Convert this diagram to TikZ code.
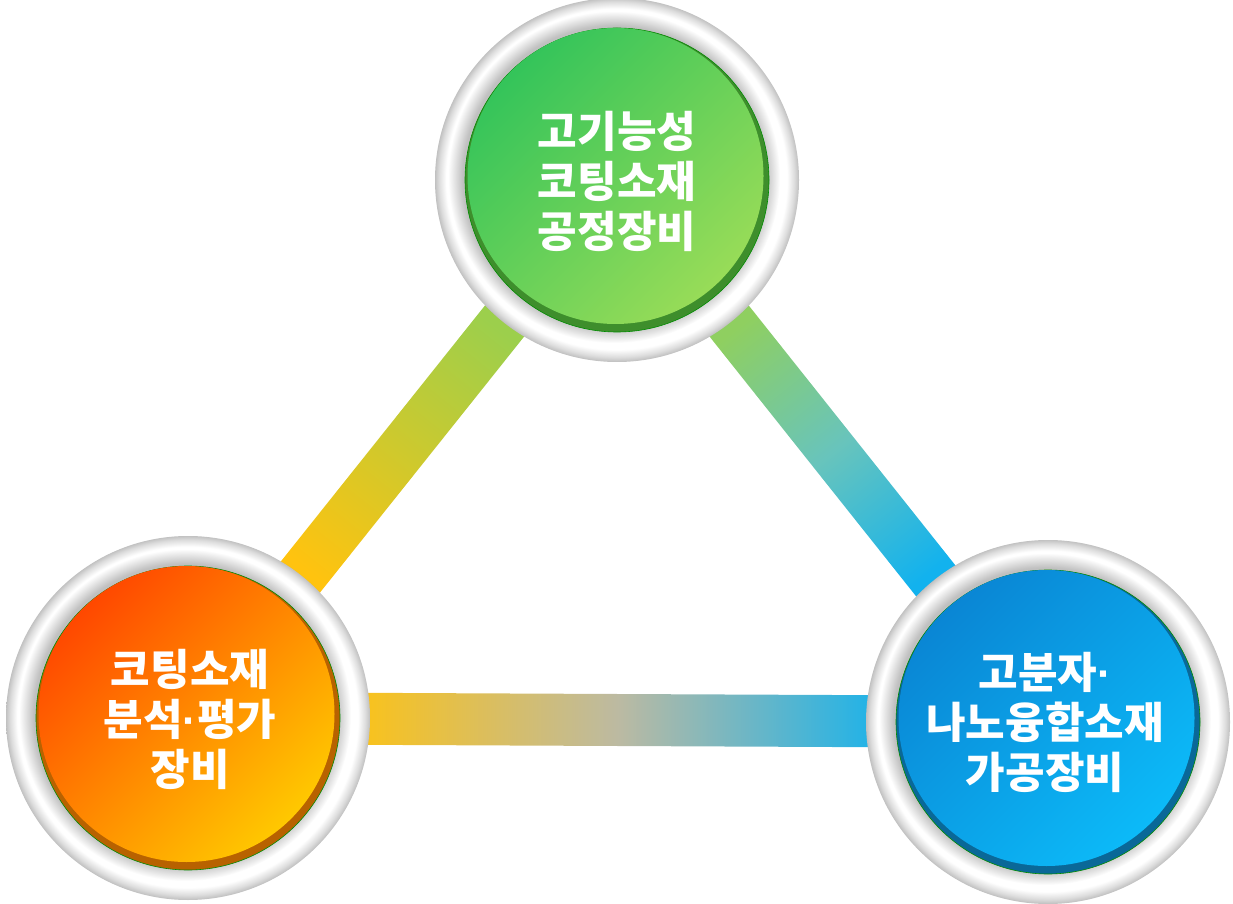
\documentclass[tikz,border=0pt]{standalone}
\usepackage{fontspec}
\newfontfamily\kr{Noto Sans CJK KR}
\newfontfamily\latin{Liberation Sans}
\usetikzlibrary{calc}
\definecolor{gA}{HTML}{34C45A}
\definecolor{gB}{HTML}{98DC58}
\definecolor{gRim}{HTML}{3E8E2C}
\definecolor{oA}{HTML}{FF4800}
\definecolor{oB}{HTML}{FFC800}
\definecolor{oRim}{HTML}{B86200}
\definecolor{bA}{HTML}{0A86D4}
\definecolor{bB}{HTML}{0CBAF8}
\definecolor{bRim}{HTML}{0A6898}
\definecolor{barY}{HTML}{FFC30F}
\definecolor{barG}{HTML}{9CCF4C}
\definecolor{barG2}{HTML}{8FCF60}
\definecolor{barT}{HTML}{68C4BC}
\definecolor{barB}{HTML}{12B2EE}
\definecolor{barM}{HTML}{BCBAA2}
\definecolor{ringgray}{HTML}{8C8C8C}
\pgfdeclareradialshading{ringshade}{\pgfpoint{-0.6bp}{1.1bp}}{%
  color(0bp)=(white); color(23.4bp)=(white); color(24.4bp)=(ringgray!30);
  color(25.5bp)=(ringgray!75); color(26.2bp)=(ringgray)}
\pgfdeclareradialshading{innershade}{\pgfpoint{0bp}{0bp}}{%
  color(0bp)=(ringgray!55); color(22.8bp)=(ringgray!55); color(25bp)=(white)}
\tikzset{
  hub/.style={circle, minimum size=364pt, inner sep=0pt},
  label/.style={text=white, align=center, font=\kr\bfseries\fontsize{43}{50}\selectfont},
}
\newcommand{\dotc}{{\latin\bfseries ·}}
\newcommand{\hubdraw}[4]{%
  \shade[shading=ringshade] (#1) circle (182);
  \shade[shading=innershade] ($(#1)+(-3,3)$) circle (166);
  \fill[#4] (#1) circle (152);
  \draw[green!55!black, line width=0.6pt] (#1) circle (152);
  \shade[top color=#2, bottom color=#3, shading angle=45] ($(#1)+(-1.5,4)$) circle (148);
}
\begin{document}
\begin{tikzpicture}[x=1pt,y=1pt]
\useasboundingbox (0,0) rectangle (1233,903);
\node[hub] (T) at (617,723) {};
\node[hub] (L) at (188,185) {};
\node[hub] (R) at (1048,181) {};
% bars
\coordinate (LT1) at ($(L)!150pt!(T)$);
\coordinate (LT2) at ($(T)!150pt!(L)$);
\coordinate (TR1) at ($(T)!150pt!(R)$);
\coordinate (TR2) at ($(R)!150pt!(T)$);
\coordinate (LR1) at ($(L)!150pt!(R)$);
\coordinate (LR2) at ($(R)!150pt!(L)$);
\shade[top color=barG, bottom color=barY, shading angle=-38.6]
  ($(LT1)!25pt!90:(LT2)$) -- ($(LT2)!25pt!-90:(LT1)$) -- ($(LT2)!25pt!90:(LT1)$) -- ($(LT1)!25pt!-90:(LT2)$) -- cycle;
\shade[top color=barG2, bottom color=barB, middle color=barT, shading angle=38.5]
  ($(TR1)!25pt!90:(TR2)$) -- ($(TR2)!25pt!-90:(TR1)$) -- ($(TR2)!25pt!90:(TR1)$) -- ($(TR1)!25pt!-90:(TR2)$) -- cycle;
\shade[left color=barY, right color=barB, middle color=barM]
  ($(LR1)!26pt!90:(LR2)$) -- ($(LR2)!26pt!-90:(LR1)$) -- ($(LR2)!26pt!90:(LR1)$) -- ($(LR1)!26pt!-90:(LR2)$) -- cycle;
% hubs
\hubdraw{T}{gA}{gB}{gRim}
\hubdraw{L}{oA}{oB}{oRim}
\hubdraw{R}{bA}{bB}{bRim}
% labels
\node[label] (Tt) at ($(T)+(0,-1)$) {고기능성\\코팅소재\\공정장비};
\node[label] (Lt) at ($(L)+(2,-1)$) {코팅소재\\분석\dotc 평가\\장비};
\node[label] (Rt) at ($(R)+(-3,0)$) {고분자\dotc\\나노융합소재\\가공장비};
\end{tikzpicture}
\end{document}
